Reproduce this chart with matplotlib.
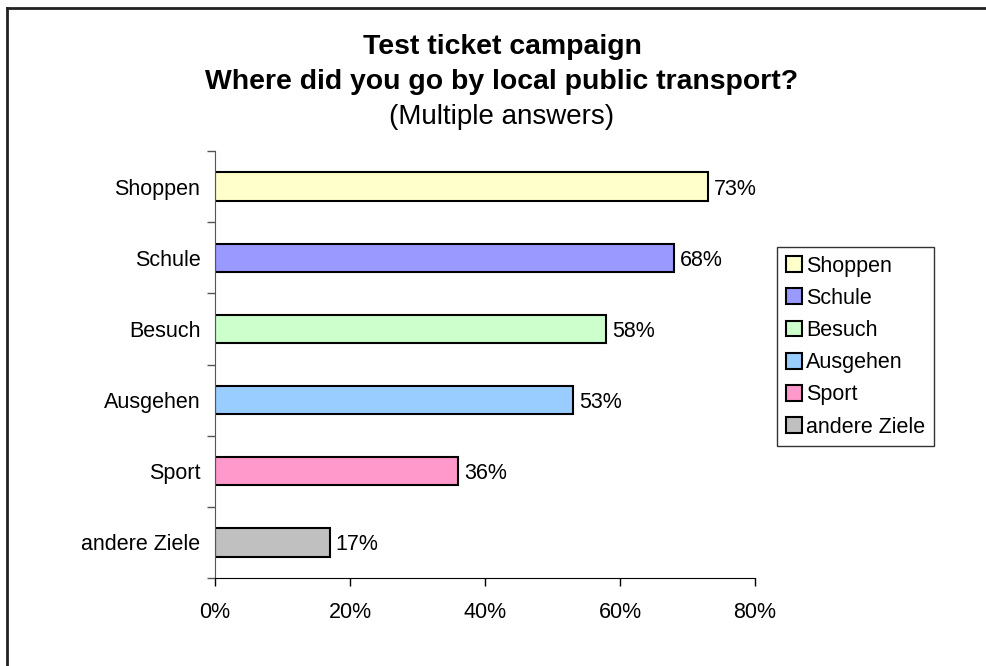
import numpy as np
import matplotlib.pyplot as plt
from matplotlib.lines import Line2D
from matplotlib.ticker import FuncFormatter

plt.rcParams['font.family'] = ['Liberation Sans', 'DejaVu Sans']

# Datos del grafico
categorias = ['Shoppen', 'Schule', 'Besuch', 'Ausgehen', 'Sport', 'andere Ziele']
valores = [73, 68, 58, 53, 36, 17]
colores = ['#FFFFCC', '#9999FF', '#CCFFCC', '#99CCFF', '#FF99CC', '#C0C0C0']
ticks_x = [0, 20, 40, 60, 80]

fig = plt.figure(figsize=(9.87, 6.66), dpi=100)
ax = fig.add_axes([215/987, 1-578/666, 540/987, 427/666])

pos = np.arange(len(categorias))[::-1]
barras = ax.barh(pos, valores, height=0.4, color=colores, edgecolor='black',
                 linewidth=1.5, label=categorias)

for p, v in zip(pos, valores):
    ax.text(v + 0.9, p, f'{v}%', va='center_baseline', ha='left', fontsize=15.5)

ax.set_xlim(0, 80)
ax.set_ylim(-0.5, len(categorias) - 0.5)
ax.set_xticks(ticks_x)
ax.xaxis.set_major_formatter(FuncFormatter(lambda x, _: f'{x:.0f}%'))
ax.set_yticks(pos)
ax.set_yticklabels(categorias)
ax.set_yticks(np.arange(len(categorias) + 1) - 0.5, minor=True)
ax.tick_params(axis='y', which='major', length=0, pad=10.5, labelsize=15.5)
ax.tick_params(axis='y', which='minor', length=6, width=1, color='#555555')
ax.tick_params(axis='x', length=6, width=1, pad=11, labelsize=15.5)
for s in ['top', 'right']:
    ax.spines[s].set_visible(False)
ax.spines['left'].set_color('#555555')
ax.spines['bottom'].set_color('black')

# Titulo
xc = 502/987
fig.text(xc, 1-47/666, 'Test ticket campaign', ha='center', va='center',
         fontsize=20.4, fontweight='bold')
fig.text(xc, 1-82/666, 'Where did you go by local public transport?',
         ha='center', va='center', fontsize=20.4, fontweight='bold')
fig.text(xc, 1-117/666, '(Multiple answers)', ha='center', va='center',
         fontsize=20)

# Leyenda
leg = fig.legend(handles=barras, labels=categorias, loc='upper left',
                 bbox_to_anchor=(777/987, 1-247/666), fontsize=15.5,
                 frameon=True, fancybox=False, edgecolor='black',
                 handlelength=0.75, handleheight=0.75, handletextpad=0.2,
                 labelspacing=0.52, borderpad=0.4, borderaxespad=0)
leg.get_frame().set_linewidth(1)

# Marco exterior (solo arriba e izquierda visibles)
fig.add_artist(Line2D([7.5/987, 1], [1-8/666, 1-8/666], color='#222222', lw=2))
fig.add_artist(Line2D([7.5/987, 7.5/987], [0, 1-8/666], color='#222222', lw=2))

fig.savefig('out.png', dpi=100)
